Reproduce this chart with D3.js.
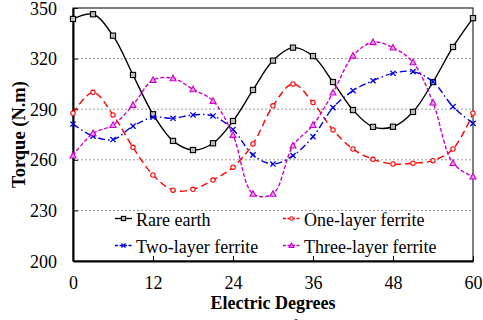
<!DOCTYPE html>
<html>
<head>
<meta charset="utf-8">
<script src="https://cdn.jsdelivr.net/npm/d3@7"></script>
<style>
  body { margin: 0; background: #fff; }
</style>
</head>
<body>
<div class="chart"></div>
<script>
var degrees = [0, 3, 6, 9, 12, 15, 18, 21, 24, 27, 30, 33, 36, 39, 42, 45, 48, 51, 54, 57, 60];
var rareEarth = [343.5, 346.3, 333.6, 310.3, 287, 271.2, 265.8, 269.8, 283, 301.4, 318.8, 326.5, 321.5, 306.1, 289.5, 279.5, 279.6, 288.4, 306.1, 326.9, 344];
var oneLayer = [287.6, 300, 286.6, 267.4, 251, 242, 242.5, 248, 255.6, 269.4, 292, 305, 293.9, 277.7, 266.4, 260.3, 257.5, 258, 259.5, 266.4, 287.6];
var twoLayer = [281.2, 274, 272, 280, 285.2, 284.6, 286.6, 286, 278, 262.9, 257.5, 262.5, 273.7, 290.9, 301, 306.9, 311.3, 312.3, 306.3, 291.5, 281.6];
var threeLayer = [262.5, 275.7, 280.6, 292.5, 307.3, 308.3, 301.8, 294.9, 274.7, 239.8, 239.8, 268.4, 280.6, 299.8, 321.7, 329.7, 326.5, 317.8, 293.9, 258, 250];
var xTicks = [0, 12, 24, 36, 48, 60];
var yTicks = [200, 230, 260, 290, 320, 350];

var margin = {top: 8, right: 10, bottom: 59, left: 73},
    width = 483 - margin.left - margin.right,
    height = 320 - margin.top - margin.bottom;

var serif = "'Liberation Serif', Tinos, 'Times New Roman', serif";

var svg = d3.select(".chart")
  .append("svg")
    .attr("width", 483)
    .attr("height", 320)
    .style("font-family", serif)
  .append("g")
    .attr("transform", "translate(" + margin.left + "," + margin.top + ")");

var x = d3.scaleLinear().domain([0, 60]).range([0, width]);
var y = d3.scaleLinear().domain([200, 350]).range([height, 0]);

// gridlines
svg.append("g")
  .selectAll("line")
  .data(yTicks.slice(1, -1))
  .enter().append("line")
    .attr("x1", 0).attr("x2", width)
    .attr("y1", function(d) { return y(d); })
    .attr("y2", function(d) { return y(d); })
    .attr("stroke", "#999")
    .attr("stroke-width", 1)
    .attr("stroke-dasharray", "2,2");

// frame
svg.append("rect")
  .attr("width", width).attr("height", height)
  .attr("fill", "none").attr("stroke", "#000").attr("stroke-width", 1);

var xaxis = d3.axisBottom(x).tickValues(xTicks).tickSize(-5).tickPadding(15).tickSizeOuter(0);
var yaxis = d3.axisLeft(y).tickValues(yTicks).tickSize(-5).tickPadding(16).tickSizeOuter(0);

var gx = svg.append("g")
  .attr("transform", "translate(0," + height + ")")
  .call(xaxis);
var gy = svg.append("g").call(yaxis);

[gx, gy].forEach(function(g) {
  g.attr("font-family", null);
  g.select(".domain").attr("stroke-width", 2);
  g.selectAll(".tick line").attr("stroke-width", 1);
  g.selectAll(".tick text")
    .style("font-family", serif)
    .attr("font-size", "18px")
    .attr("fill", "#000");
});
gy.selectAll(".tick text").attr("dy", "0.34em");

// axis titles
svg.append("text")
  .attr("x", 200).attr("y", height + 48)
  .attr("text-anchor", "middle")
  .style("font-family", serif)
  .attr("font-size", "18px").attr("font-weight", "bold")
  .text("Electric Degrees");

svg.append("text")
  .attr("transform", "translate(-48," + (height / 2) + ") rotate(-90)")
  .attr("text-anchor", "middle")
  .style("font-family", serif)
  .attr("font-size", "18.5px").attr("font-weight", "bold")
  .text("Torque (N.m)");

// caption (cut off in the frame, as in the original figure)
svg.append("text")
  .attr("x", 149).attr("y", height + 72)
  .attr("text-anchor", "middle")
  .style("font-family", serif)
  .attr("font-size", "18.5px")
  .text("(a) No-load torque waveforms");

var series = [
  {name: "Rare earth", values: rareEarth, color: "#000", dash: null, marker: "square"},
  {name: "One-layer ferrite", values: oneLayer, color: "#ff0000", dash: "7,4", marker: "circle"},
  {name: "Two-layer ferrite", values: twoLayer, color: "#0000dd", dash: "7,3,1.5,3", marker: "x"},
  {name: "Three-layer ferrite", values: threeLayer, color: "#cc00cc", dash: "4,2", marker: "triangle"}
];

var line = d3.line()
  .x(function(d) { return x(d[0]); })
  .y(function(d) { return y(d[1]); })
  .curve(d3.curveCatmullRom.alpha(0.5));

function drawMarker(g, s, cx, cy, k) {
  k = k || 1;
  if (s.marker == "square") {
    g.append("rect").attr("x", cx - 2.6 * k).attr("y", cy - 2.6 * k)
      .attr("width", 5.2 * k).attr("height", 5.2 * k)
      .attr("fill", "#bbb").attr("stroke", "#000").attr("stroke-width", 1.1);
  } else if (s.marker == "circle") {
    g.append("circle").attr("cx", cx).attr("cy", cy).attr("r", 2.2 * k)
      .attr("fill", "#fff").attr("stroke", s.color).attr("stroke-width", 1.1);
  } else if (s.marker == "x") {
    var r = 2.6 * k;
    g.append("path")
      .attr("d", "M" + (cx - r) + "," + (cy - r) + "L" + (cx + r) + "," + (cy + r) +
                 "M" + (cx - r) + "," + (cy + r) + "L" + (cx + r) + "," + (cy - r))
      .attr("stroke", s.color).attr("stroke-width", 1.3);
  } else {
    g.append("path")
      .attr("d", "M" + cx + "," + (cy - 3.2 * k) + "L" + (cx + 3 * k) + "," + (cy + 2.4 * k) +
                 "L" + (cx - 3 * k) + "," + (cy + 2.4 * k) + "Z")
      .attr("fill", "#e9a0e9").attr("stroke", s.color).attr("stroke-width", 1.1);
  }
}

series.forEach(function(s) {
  var pts = degrees.map(function(d, i) { return [d, s.values[i]]; });
  svg.append("path")
    .datum(pts)
    .attr("fill", "none")
    .attr("stroke", s.color)
    .attr("stroke-width", 1.4)
    .attr("stroke-dasharray", s.dash)
    .attr("d", line);
  var mg = svg.append("g");
  pts.forEach(function(p) { drawMarker(mg, s, x(p[0]), y(p[1])); });
});

// legend
var legendPos = [[42, 210.5], [210, 210.5], [42, 237.5], [210, 237.5]];
series.forEach(function(s, i) {
  var lg = svg.append("g").attr("transform", "translate(" + legendPos[i][0] + "," + legendPos[i][1] + ")");
  lg.append("line").attr("x1", 0).attr("x2", 17).attr("y1", 0).attr("y2", 0)
    .attr("stroke", s.color).attr("stroke-width", 1.4)
    .attr("stroke-dasharray", s.dash ? "3,1.5" : null);
  drawMarker(lg, s, 8.5, 0, 0.8);
  lg.append("text").attr("x", 21).attr("y", 7)
    .style("font-family", serif)
    .attr("font-size", "18px").attr("fill", "#000")
    .text(s.name);
});
</script>
</body>
</html>
